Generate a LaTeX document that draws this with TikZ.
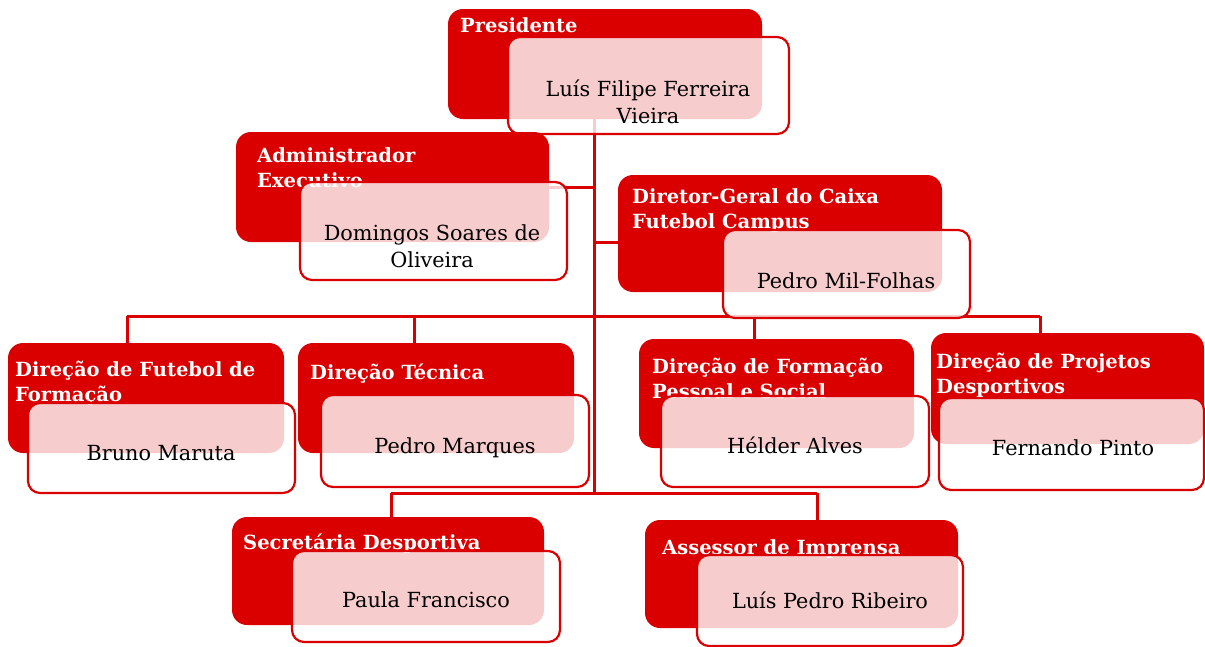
\documentclass[tikz,border=0pt]{standalone}
\usepackage{fontspec}
\setmainfont{DejaVu Serif}
\usetikzlibrary{backgrounds}
\definecolor{orgred}{RGB}{218,0,0}

\begin{document}
\begin{tikzpicture}[x=1pt,y=-1pt,
    redbox/.style={fill=orgred,rounded corners=15pt,inner sep=0pt},
    whitebox/.style={draw=orgred,line width=2.2pt,fill=white,fill opacity=0.8,rounded corners=12pt,inner sep=0pt},
    role/.style={anchor=base west,inner sep=0pt,text=white,align=left,font=\bfseries\fontsize{19.5}{24.5}\selectfont},
    person/.style={anchor=base,inner sep=0pt,align=center,font=\fontsize{20.8}{27}\selectfont},
    link/.style={draw=orgred,line width=3pt}]
  \useasboundingbox (0,0) rectangle (1205,646);
  % presidente
  \node[redbox,minimum width=314pt,minimum height=110pt] (presB) at (605,64) {};
  \node[role] (presT) at (460,32) {Presidente};
  \node[whitebox,minimum width=281pt,minimum height=97pt] (presW) at (648.5,85.5) {};
  \node[person] (presP) at (648,123) {Luís Filipe Ferreira\\Vieira};
  % administrador
  \node[redbox,minimum width=313pt,minimum height=110pt] (admB) at (392.5,187) {};
  \node[role] (admT) at (257,187) {Administrador\\Executivo};
  \node[whitebox,minimum width=267pt,minimum height=98pt] (admW) at (433.5,231) {};
  \node[person] (admP) at (432,267) {Domingos Soares de\\Oliveira};
  % diretor-geral
  \node[redbox,minimum width=324pt,minimum height=117pt] (dgB) at (780,233.5) {};
  \node[role] (dgT) at (632,228) {Diretor-Geral do Caixa\\Futebol Campus};
  \node[whitebox,minimum width=247pt,minimum height=88pt] (dgW) at (846.5,274) {};
  \node[person] (dgP) at (846,288) {Pedro Mil-Folhas};
  % direcoes
  \node[redbox,minimum width=276pt,minimum height=110pt] (dffB) at (146,398) {};
  \node[role] (dffT) at (15,401) {Direção de Futebol de\\Formação};
  \node[whitebox,minimum width=267pt,minimum height=90pt] (dffW) at (161.5,448) {};
  \node[person] (dffP) at (161,460) {Bruno Maruta};

  \node[redbox,minimum width=276pt,minimum height=110pt] (dtB) at (436,398) {};
  \node[role] (dtT) at (310,379) {Direção Técnica};
  \node[whitebox,minimum width=268pt,minimum height=92pt] (dtW) at (455,441) {};
  \node[person] (dtP) at (455,453) {Pedro Marques};

  \node[redbox,minimum width=275pt,minimum height=109pt] (dfpsB) at (776.5,393.5) {};
  \node[role] (dfpsT) at (652,398) {Direção de Formação\\Pessoal e Social};
  \node[whitebox,minimum width=268pt,minimum height=91pt] (dfpsW) at (795,441.5) {};
  \node[person] (dfpsP) at (795,453) {Hélder Alves};

  \node[redbox,minimum width=273pt,minimum height=111pt] (dpdB) at (1067.5,388.5) {};
  \node[role] (dpdT) at (936,393) {Direção de Projetos\\Desportivos};
  \node[whitebox,minimum width=265pt,minimum height=92pt] (dpdW) at (1071.5,444) {};
  \node[person] (dpdP) at (1073,455) {Fernando Pinto};
  % assessores
  \node[redbox,minimum width=312pt,minimum height=108pt] (sdB) at (388,571) {};
  \node[role] (sdT) at (243,549) {Secretária Desportiva};
  \node[whitebox,minimum width=268pt,minimum height=91pt] (sdW) at (426,596.5) {};
  \node[person] (sdP) at (426,607) {Paula Francisco};

  \node[redbox,minimum width=313pt,minimum height=108pt] (aiB) at (801.5,574) {};
  \node[role] (aiT) at (662,554) {Assessor de Imprensa};
  \node[whitebox,minimum width=266pt,minimum height=91pt] (aiW) at (830,600.5) {};
  \node[person] (aiP) at (830,608) {Luís Pedro Ribeiro};

  \begin{scope}[on background layer]
    \coordinate (trunk) at (594,493);
    \coordinate (j1) at (127,316);
    \coordinate (j2) at (414,316);
    \coordinate (j3) at (754,316);
    \coordinate (j4) at (1040,316);
    \coordinate (k1) at (391,493);
    \coordinate (k2) at (817,493);
    \draw[link] (presB.south -| trunk) -- (trunk);
    \draw[link] (admB.east) -- (admB.east -| trunk);
    \draw[link] ([yshift=-9pt]dgB.west) -- ([yshift=-9pt]dgB.west -| trunk);
    \draw[link] (j1) -- (j4);
    \foreach \j/\b in {j1/dffB,j2/dtB,j3/dfpsB,j4/dpdB}
      \draw[link] (\j) -- (\j |- \b.north);
    \draw[link] (k1) -- (k2);
    \draw[link] (k1) -- (k1 |- sdB.north);
    \draw[link] (k2) -- (k2 |- aiB.north);
  \end{scope}
\end{tikzpicture}
\end{document}
